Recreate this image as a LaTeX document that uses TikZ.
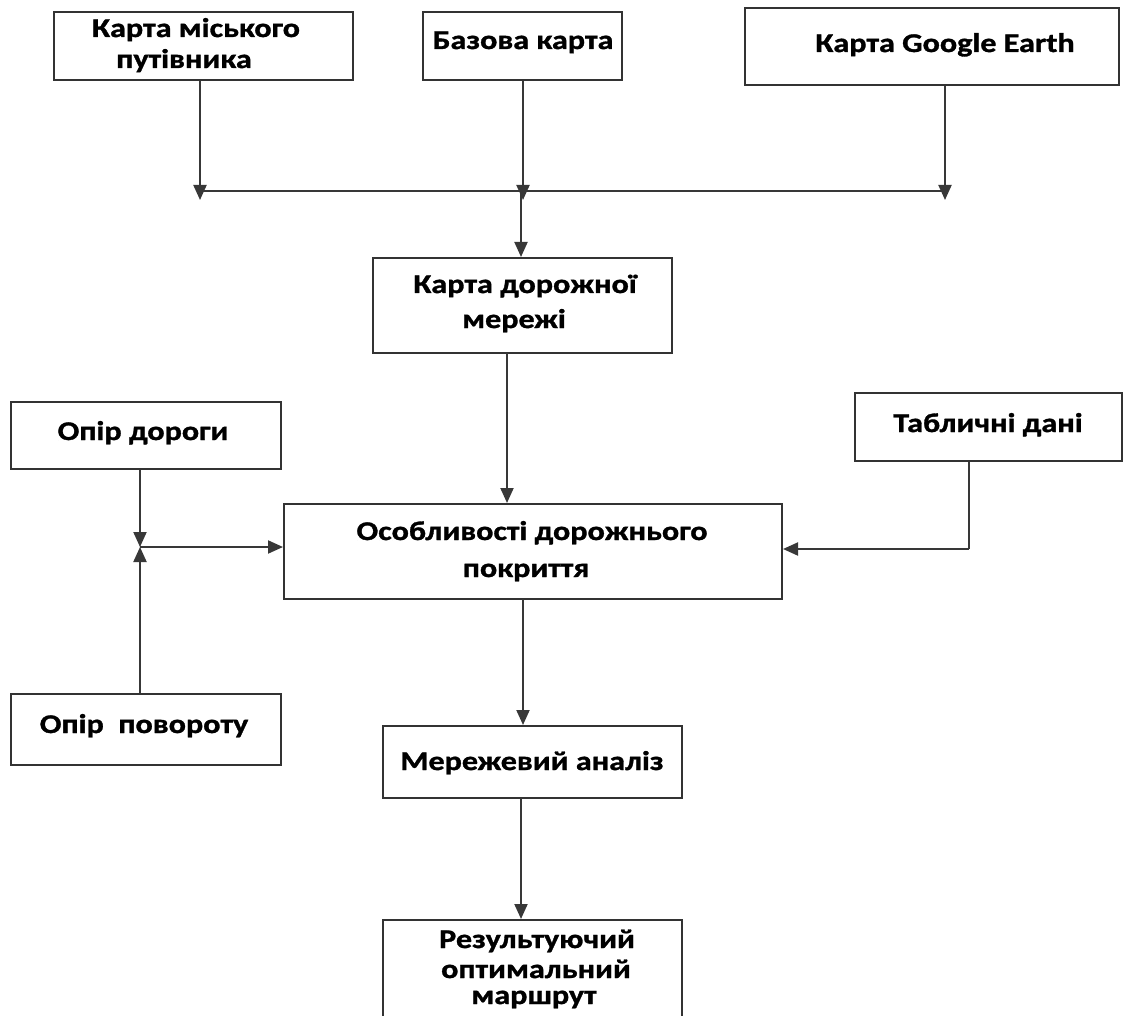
\documentclass[tikz,border=0pt]{standalone}
\usepackage{fontspec}
\newfontfamily\diafont{Carlito}[FakeStretch=1.19, BoldFeatures={FakeBold=1.2}]
\usetikzlibrary{arrows.meta}
\tikzset{
  box/.style={draw=black!80, line width=2pt, rectangle, inner sep=0pt},
  txt/.style={font=\diafont\bfseries\fontsize{27}{31}\selectfont, text=black, inner sep=0pt, anchor=base, align=center},
  conn/.style={draw=black!78, line width=2pt},
  arr/.style={conn, -{Triangle[length=15pt,width=13pt]}},
}
\begin{document}
\begin{tikzpicture}[x=1pt,y=-1pt]
\useasboundingbox (0,0) rectangle (1124,1016);
\clip (0,0) rectangle (1124,1016);
% boxes
\node[box, minimum width=299pt, minimum height=68pt] (b1) at (203.5,46) {};
\node[box, minimum width=199pt, minimum height=68pt] (b2) at (522.5,46) {};
\node[box, minimum width=374pt, minimum height=77pt] (b3) at (932,46.5) {};
\node[box, minimum width=299pt, minimum height=95pt] (b4) at (522.5,305.5) {};
\node[box, minimum width=270pt, minimum height=67pt] (od) at (146,435.5) {};
\node[box, minimum width=270pt, minimum height=71pt] (op) at (146,729.5) {};
\node[box, minimum width=267pt, minimum height=68pt] (td) at (988.5,427) {};
\node[box, minimum width=498pt, minimum height=95pt] (b5) at (533,551.5) {};
\node[box, minimum width=299pt, minimum height=72pt] (b6) at (532.5,762) {};
\node[box, minimum width=299pt, minimum height=140pt] (b7) at (532.5,990) {};
% texts
\node[txt] (t1a) at (196,37) {Карта міського};
\node[txt] (t1b) at (184,68) {путівника};
\node[txt] (t2) at (523,49) {Базова карта};
\node[txt] (t3) at (945,52) {Карта Google Earth};
\node[txt] (t4a) at (525,293) {Карта дорожної};
\node[txt] (t4b) at (514,328) {мережі};
\node[txt] (tod) at (143,440) {Опір дороги};
\node[txt] (top) at (144,733) {Опір\ \ повороту};
\node[txt] (ttd) at (988,432) {Табличні дані};
\node[txt] (t5a) at (532,540) {Особливості дорожнього};
\node[txt] (t5b) at (526,577) {покриття};
\node[txt] (t6) at (532,770) {Мережевий аналіз};
\node[txt] (t7a) at (537,948) {Результуючий};
\node[txt] (t7b) at (536,978) {оптимальний};
\node[txt] (t7c) at (534,1004) {маршрут};
% junction coordinates
\coordinate (j1) at (200,191);
\coordinate (j2) at (521,191);
\coordinate (j3) at (945,191);
\coordinate (a1) at (200,200);
\coordinate (a2) at (523,200);
\coordinate (a3) at (945,200);
\coordinate (jl) at (140,547);
\coordinate (jr) at (969,549);
% connectors
\draw[arr] (a1 |- b1.south) -- (a1);
\draw[arr] (a2 |- b2.south) -- (a2);
\draw[arr] (a3 |- b3.south) -- (a3);
\draw[conn] (j1) -- (j3);
\draw[arr] (j2) -- (j2 |- b4.north);
\draw[arr] (507,353) coordinate (s4) -- (s4 |- b5.north);
\draw[arr] (jl |- od.south) -- (jl);
\draw[arr] (jl |- op.north) -- (jl);
\draw[arr] (jl) -- (jl -| b5.west);
\draw[conn] (jr |- td.south) -- (jr);
\draw[arr] (jr) -- (jr -| b5.east);
\draw[arr] (523,599) coordinate (s5) -- (s5 |- b6.north);
\draw[arr] (521,798) coordinate (s6) -- (s6 |- b7.north);
\end{tikzpicture}
\end{document}
